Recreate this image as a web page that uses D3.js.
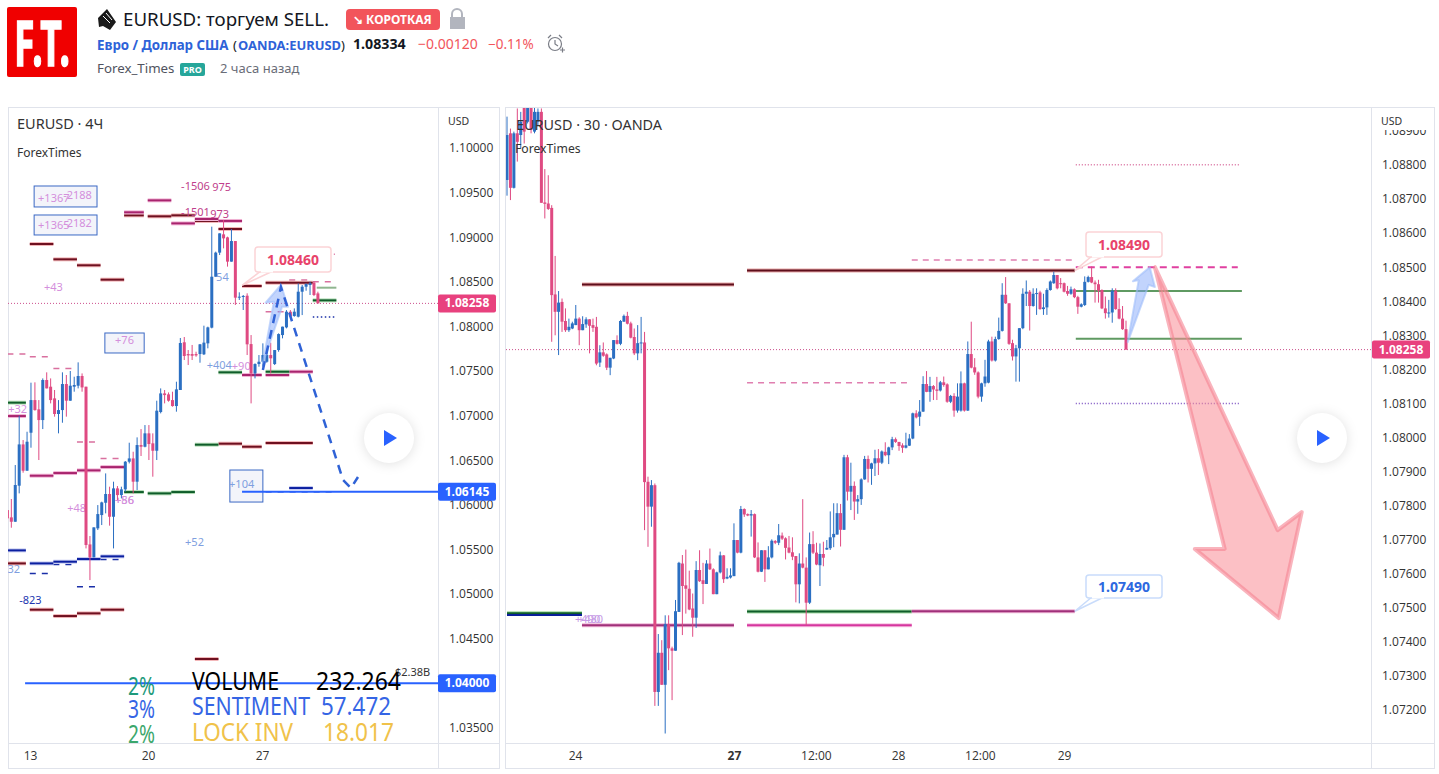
<!DOCTYPE html>
<html>
<head>
<meta charset="utf-8">
<script src="https://d3js.org/d3.v7.min.js"></script>
<style>
    html, body { margin: 0; background: #fff; overflow: hidden; }
    svg { display: block; }
    text { font-family: "Noto Sans", sans-serif; }
    .tick text { fill: #333; font-size: 12px; font-family: "Open Sans", sans-serif; }
    .domain { display: none; }
    .play { filter: drop-shadow(0 1px 6px rgba(0,0,0,.12)); }
</style>
</head>
<body>
<svg id="chart" width="1439" height="774"></svg>
<script>
// prices: open, high, low, close per bar
var leftCandles = [
[1.05941,1.05941,1.05848,1.05848],[1.05859,1.06065,1.05743,1.05810],[1.05810,1.06446,1.05810,1.06222],[1.06214,1.06999,1.06128,1.06677],
[1.06677,1.06726,1.06360,1.06382],[1.06382,1.06819,1.06382,1.06707],[1.06808,1.07369,1.06640,1.07174],[1.07174,1.07373,1.07055,1.07062],
[1.07070,1.07174,1.06502,1.06950],[1.06950,1.07417,1.06849,1.07399],[1.07399,1.07485,1.07305,1.07305],[1.07324,1.07417,1.07137,1.07174],
[1.07193,1.07287,1.06988,1.07018],[1.07018,1.07174,1.06801,1.07062],[1.07062,1.07485,1.06920,1.07354],[1.07354,1.07455,1.06988,1.07167],
[1.07167,1.07500,1.07167,1.07335],[1.07324,1.07436,1.07268,1.07343],[1.07335,1.07597,1.07305,1.07444],[1.07444,1.07473,1.07268,1.07316],
[1.07324,1.07324,1.05511,1.05549],[1.05556,1.05650,1.05156,1.05411],[1.05411,1.05747,1.05411,1.05747],[1.05736,1.05997,1.05717,1.05896],
[1.05885,1.06035,1.05773,1.06027],[1.06023,1.06352,1.05904,1.06121],[1.06121,1.06203,1.05766,1.05866],[1.05866,1.06259,1.05511,1.06184],
[1.06184,1.06210,1.06053,1.06109],[1.06109,1.06203,1.06072,1.06173],[1.06173,1.06491,1.06147,1.06483],[1.06483,1.06696,1.06464,1.06520],
[1.06520,1.06595,1.06128,1.06259],[1.06259,1.06756,1.06165,1.06670],[1.06670,1.06849,1.06547,1.06651],[1.06651,1.06894,1.06644,1.06801],
[1.06801,1.06894,1.06502,1.06681],[1.06689,1.06801,1.06315,1.06606],[1.06606,1.07167,1.06502,1.07055],[1.07040,1.07305,1.07025,1.07249],
[1.07249,1.07287,1.07137,1.07230],[1.07238,1.07260,1.07156,1.07167],[1.07174,1.07268,1.07100,1.07107],[1.07107,1.07380,1.07044,1.07294],
[1.07287,1.07870,1.07287,1.07814],[1.07822,1.07881,1.07623,1.07668],[1.07690,1.07735,1.07567,1.07675],[1.07690,1.07792,1.07623,1.07671],
[1.07690,1.07716,1.07660,1.07675],[1.07690,1.07803,1.07593,1.07799],[1.07687,1.08008,1.07679,1.07818],[1.07810,1.07997,1.07754,1.07989],
[1.07986,1.09118,1.07978,1.08557],[1.08557,1.08838,1.08557,1.08827],[1.08827,1.09043,1.08800,1.09043],[1.09032,1.09193,1.08875,1.08987],
[1.08998,1.09006,1.08670,1.08726],[1.08726,1.09092,1.08726,1.08957],[1.08957,1.08957,1.08240,1.08322],[1.08322,1.08382,1.08296,1.08333],
[1.08333,1.08352,1.08184,1.08341],[1.08344,1.08371,1.07679,1.07799],[1.07802,1.07903,1.07137,1.07473],[1.07473,1.07586,1.07417,1.07578],
[1.07578,1.07679,1.07548,1.07604],[1.07604,1.07810,1.07548,1.07679],[1.07604,1.07754,1.07593,1.07679],[1.07679,1.07817,1.07473,1.07642],
[1.07578,1.07735,1.07567,1.07735],[1.07735,1.07922,1.07716,1.07914],[1.07903,1.07997,1.07866,1.07997],[1.07989,1.08183,1.07978,1.08165],
[1.08165,1.08183,1.08101,1.08109],[1.08116,1.08202,1.08109,1.08165],[1.08109,1.08482,1.08101,1.08389],[1.08389,1.08464,1.08127,1.08445],
[1.08445,1.08482,1.08400,1.08475],[1.08464,1.08501,1.08352,1.08482],[1.08490,1.08501,1.08340,1.08352],[1.08370,1.08389,1.08258,1.08258]
];
var rightCandles = [
[1.08756,1.08942,1.08710,1.08888],[1.08893,1.08907,1.08697,1.08733],[1.08733,1.08898,1.08731,1.08893],[1.08893,1.08966,1.08810,1.08868],
[1.08888,1.08956,1.08849,1.08927],[1.08968,1.08986,1.08863,1.08898],[1.08927,1.09015,1.08922,1.08986],[1.08976,1.09005,1.08893,1.08903],
[1.08898,1.08996,1.08893,1.08956],[1.08927,1.08966,1.08917,1.08956],[1.08956,1.08966,1.08689,1.08689],[1.08690,1.08788,1.08643,1.08686],
[1.08687,1.08770,1.08668,1.08671],[1.08674,1.08682,1.08281,1.08418],[1.08420,1.08533,1.08300,1.08369],[1.08369,1.08430,1.08242,1.08396],
[1.08398,1.08408,1.08310,1.08340],[1.08342,1.08379,1.08310,1.08315],[1.08315,1.08349,1.08310,1.08325],[1.08320,1.08340,1.08318,1.08335],
[1.08330,1.08389,1.08330,1.08349],[1.08349,1.08353,1.08271,1.08315],[1.08315,1.08356,1.08315,1.08333],[1.08332,1.08353,1.08322,1.08347],
[1.08347,1.08347,1.08247,1.08328],[1.08330,1.08349,1.08310,1.08322],[1.08325,1.08354,1.08212,1.08217],[1.08220,1.08271,1.08207,1.08250],
[1.08250,1.08279,1.08237,1.08240],[1.08244,1.08247,1.08198,1.08205],[1.08205,1.08234,1.08183,1.08234],[1.08232,1.08286,1.08230,1.08286],
[1.08286,1.08300,1.08273,1.08275],[1.08275,1.08345,1.08271,1.08342],[1.08340,1.08361,1.08340,1.08357],[1.08357,1.08369,1.08332,1.08334],
[1.08335,1.08340,1.08291,1.08293],[1.08295,1.08320,1.08242,1.08247],[1.08247,1.08330,1.08227,1.08277],[1.08277,1.08354,1.08247,1.08279],
[1.08279,1.08310,1.07728,1.07869],[1.07870,1.07885,1.07679,1.07797],[1.07797,1.07875,1.07738,1.07860],[1.07860,1.07865,1.07212,1.07253],
[1.07253,1.07423,1.07212,1.07368],[1.07368,1.07405,1.07274,1.07274],[1.07274,1.07478,1.07131,1.07452],[1.07452,1.07478,1.07317,1.07381],
[1.07381,1.07386,1.07229,1.07374],[1.07374,1.07523,1.07374,1.07490],[1.07488,1.07635,1.07488,1.07632],[1.07630,1.07655,1.07420,1.07564],
[1.07566,1.07671,1.07483,1.07556],[1.07556,1.07609,1.07493,1.07495],[1.07498,1.07542,1.07415,1.07471],[1.07471,1.07637,1.07441,1.07611],
[1.07611,1.07669,1.07576,1.07578],[1.07581,1.07632,1.07511,1.07570],[1.07570,1.07640,1.07570,1.07630],[1.07630,1.07674,1.07611,1.07613],
[1.07613,1.07616,1.07540,1.07540],[1.07540,1.07606,1.07540,1.07604],[1.07604,1.07665,1.07601,1.07654],[1.07654,1.07655,1.07573,1.07584],
[1.07586,1.07616,1.07584,1.07591],[1.07589,1.07616,1.07586,1.07595],[1.07593,1.07748,1.07593,1.07699],[1.07699,1.07699,1.07660,1.07662],
[1.07662,1.07799,1.07660,1.07790],[1.07790,1.07792,1.07767,1.07774],[1.07775,1.07777,1.07769,1.07771],[1.07771,1.07787,1.07709,1.07775],
[1.07775,1.07777,1.07646,1.07648],[1.07648,1.07692,1.07604,1.07606],[1.07606,1.07669,1.07605,1.07669],[1.07669,1.07669,1.07576,1.07613],
[1.07613,1.07681,1.07613,1.07648],[1.07648,1.07701,1.07645,1.07697],[1.07696,1.07699,1.07687,1.07691],[1.07691,1.07746,1.07684,1.07713],
[1.07712,1.07721,1.07699,1.07703],[1.07704,1.07707,1.07642,1.07676],[1.07677,1.07711,1.07660,1.07662],[1.07663,1.07707,1.07640,1.07650],
[1.07652,1.07652,1.07516,1.07569],[1.07569,1.07660,1.07513,1.07630],[1.07630,1.07819,1.07616,1.07618],[1.07618,1.07648,1.07449,1.07515],
[1.07515,1.07721,1.07511,1.07687],[1.07687,1.07725,1.07658,1.07662],[1.07662,1.07691,1.07625,1.07627],[1.07625,1.07689,1.07564,1.07658],
[1.07658,1.07694,1.07622,1.07647],[1.07671,1.07699,1.07670,1.07676],[1.07675,1.07783,1.07670,1.07707],[1.07707,1.07807,1.07678,1.07717],
[1.07715,1.07807,1.07715,1.07778],[1.07778,1.07805,1.07680,1.07729],[1.07729,1.07949,1.07729,1.07942],[1.07942,1.07949,1.07815,1.07841],
[1.07841,1.07926,1.07787,1.07858],[1.07858,1.07871,1.07758,1.07812],[1.07812,1.07831,1.07776,1.07819],[1.07819,1.07880,1.07802,1.07877],
[1.07877,1.07946,1.07876,1.07937],[1.07937,1.07947,1.07868,1.07908],[1.07908,1.07926,1.07861,1.07924],[1.07924,1.07964,1.07887,1.07939],
[1.07939,1.07966,1.07890,1.07926],[1.07926,1.07962,1.07922,1.07959],[1.07958,1.07986,1.07945,1.07948],[1.07948,1.07973,1.07922,1.07971],
[1.07971,1.08002,1.07963,1.07995],[1.07995,1.08000,1.07984,1.07987],[1.07987,1.07987,1.07961,1.07975],[1.07977,1.07983,1.07955,1.07970],
[1.07970,1.08014,1.07968,1.07977],[1.07976,1.08010,1.07975,1.07997],[1.07997,1.08073,1.07995,1.08071],[1.08071,1.08080,1.08056,1.08059],
[1.08061,1.08110,1.08034,1.08076],[1.08076,1.08180,1.08075,1.08157],[1.08157,1.08195,1.08133,1.08134],[1.08134,1.08178,1.08105,1.08151],
[1.08151,1.08154,1.08110,1.08141],[1.08141,1.08178,1.08110,1.08137],[1.08138,1.08166,1.08135,1.08162],[1.08162,1.08179,1.08149,1.08154],
[1.08156,1.08159,1.08102,1.08105],[1.08105,1.08125,1.08101,1.08122],[1.08122,1.08130,1.08061,1.08079],[1.08079,1.08159,1.08073,1.08120],
[1.08079,1.08194,1.08076,1.08159],[1.08159,1.08161,1.08076,1.08079],[1.08079,1.08282,1.08078,1.08245],[1.08245,1.08340,1.08203,1.08205],
[1.08206,1.08233,1.08184,1.08191],[1.08191,1.08194,1.08115,1.08120],[1.08120,1.08161,1.08105,1.08159],[1.08159,1.08228,1.08149,1.08179],
[1.08161,1.08287,1.08159,1.08282],[1.08282,1.08296,1.08223,1.08226],[1.08226,1.08296,1.08223,1.08289],[1.08289,1.08352,1.08287,1.08313],
[1.08313,1.08453,1.08311,1.08419],[1.08419,1.08471,1.08392,1.08394],[1.08394,1.08394,1.08272,1.08275],[1.08277,1.08287,1.08226,1.08238],
[1.08238,1.08272,1.08164,1.08262],[1.08262,1.08321,1.08164,1.08321],[1.08321,1.08438,1.08318,1.08422],[1.08422,1.08461,1.08386,1.08428],
[1.08428,1.08433,1.08314,1.08386],[1.08386,1.08438,1.08384,1.08422],[1.08422,1.08438,1.08360,1.08424],[1.08426,1.08431,1.08375,1.08377],
[1.08377,1.08422,1.08360,1.08382],[1.08382,1.08438,1.08360,1.08433],[1.08433,1.08461,1.08431,1.08458],[1.08453,1.08487,1.08451,1.08477],
[1.08477,1.08477,1.08435,1.08438],[1.08453,1.08468,1.08438,1.08451],[1.08453,1.08455,1.08426,1.08428],[1.08430,1.08445,1.08416,1.08422],
[1.08422,1.08443,1.08419,1.08435],[1.08435,1.08438,1.08409,1.08412],[1.08412,1.08416,1.08363,1.08384],[1.08384,1.08394,1.08382,1.08391],
[1.08389,1.08473,1.08386,1.08457],[1.08457,1.08475,1.08455,1.08471],[1.08471,1.08502,1.08453,1.08455],[1.08455,1.08461,1.08396,1.08450],
[1.08450,1.08463,1.08396,1.08431],[1.08433,1.08435,1.08377,1.08379],[1.08379,1.08414,1.08349,1.08365],[1.08365,1.08404,1.08352,1.08367],
[1.08367,1.08438,1.08337,1.08431],[1.08431,1.08438,1.08375,1.08377],[1.08377,1.08409,1.08347,1.08349],[1.08349,1.08386,1.08316,1.08318],
[1.08318,1.08343,1.08258,1.08258]
];

var leftPriceTicks = [1.10, 1.095, 1.09, 1.085, 1.08, 1.075, 1.07, 1.065, 1.06, 1.055, 1.05, 1.045, 1.04, 1.035];
var rightPriceTicks = [1.089, 1.088, 1.087, 1.086, 1.085, 1.084, 1.083, 1.082, 1.081, 1.08, 1.079, 1.078, 1.077, 1.076, 1.075, 1.074, 1.073, 1.072];
var leftTimeBars = [5.75, 35.8, 64.8];
var leftTimeLabels = ["13", "20", "27"];
var rightTimeBars = [19.8, 66, 89.8, 113.7, 137.5, 162];
var rightTimeLabels = ["24", "27", "12:00", "28", "12:00", "29"];
var lastPrice = 1.08258;

// levels: first bar, last bar, price
var leftMaroon = [[5.7,11.7,1.08924],[11.7,17.7,1.08752],[17.7,23.7,1.08685],[23.7,29.7,1.08524],[29.7,34.7,1.09245],[35.7,41.7,1.09234],[41.7,47.7,1.09245],[47.7,53.7,1.09182],[53.7,59.7,1.09092],[59.7,64.7,1.08453],[65.7,77.7,1.0849],[53.7,59.7,1.06685],[59.7,64.7,1.06651],[65.7,77.7,1.06693],[0,4.7,1.05343],[5.7,11.7,1.04824],[11.7,17.7,1.04753],[17.7,23.7,1.04783],[23.7,29.7,1.04824],[47.7,53.7,1.04271]];
var leftMagenta = [[29.7,34.7,1.09279],[35.7,41.7,1.09413],[41.7,47.7,1.09155],[47.7,53.7,1.09204],[53.7,59.7,1.09182],[0,4.7,1.06995],[5.7,11.7,1.06326],[11.7,17.7,1.06356],[17.7,23.7,1.06386],[23.7,29.7,1.06423],[59.7,64.7,1.07455],[65.7,71.7,1.07455],[71.7,77.7,1.07492]];
var leftGreen = [[0,4.7,1.07145],[53.7,59.7,1.07485],[65.7,71.7,1.07492],[47.7,53.7,1.06674],[29.7,34.7,1.06143],[35.7,41.7,1.06128],[41.7,47.7,1.06143],[77.7,83.7,1.08292]];
var leftLightGreen = [[78.7,83.7,1.08434]];
var leftNavy = [[0,4.7,1.05489],[5.7,11.7,1.05343],[11.7,17.7,1.05362],[17.7,23.7,1.05392],[23.7,29.7,1.05422],[71.7,77.7,1.06188]];
var leftPinkDashed = [[0,4.7,1.0769],[5.7,11.7,1.0766],[11.7,17.7,1.07529],[17.7,23.7,1.06704],[23.7,29.7,1.0652],[65.7,71.7,1.08165],[71.7,77.7,1.0852],[77.7,83.7,1.08501]];
var leftNavyDashed = [[5.7,11.7,1.05231],[11.7,17.7,1.05332],[17.7,23.7,1.05082],[23.7,29.7,1.05388],[65.7,83.7,1.06145]];
var leftDotted = [[80,83.7,1.08808]];
var leftNavyDotted = [[77.7,83.2,1.08105]];
var leftBlueLevels = [[59.7,110,1.06145],[4.5,110,1.04]];
var leftBoxes = [[6.8,22.8,1.09574,1.09339],[6.8,22.8,1.09249,1.09025],[24.8,34.8,1.07926,1.07702],[56.6,65,1.0639,1.06031]];

var rightMaroon = [[21.8,66,1.08449],[69.8,165.1,1.0849]];
var rightPinkDashed = [[117.7,165.1,1.08521],[69.8,116.3,1.08161]];
var rightMagentaDashed = [[165.4,212.5,1.085]];
var rightDotted = [[165.4,213,1.08801]];
var rightPurpleDotted = [[165.4,213,1.081]];
var rightGreen = [[165.4,213.7,1.0843],[165.4,213.7,1.0829]];
var rightDarkGreen = [[0,21.8,1.07484],[69.8,117.7,1.07489]];
var rightNavy = [[0,21.8,1.07479]];
var rightPurple = [[21.8,66,1.07449],[117.7,165.1,1.0749]];
var rightPink = [[69.8,117.7,1.07449]];

// drawings, as [bar, price]
var leftArrow = [[65,1.0759],[67.8,1.08277],[65.7,1.08266],[69.6,1.08464],[71.4,1.08221],[69.9,1.08221]];
var leftPath = [[65,1.07511],[69.6,1.08442],[85.4,1.06278],[87.4,1.06188],[89.2,1.06312]];
var rightBlueArrow = [[180.5,1.0828],[183.7,1.08462],[182,1.08459],[186.9,1.085],[188.4,1.08442],[186.6,1.08448]];
var rightRedArrow = [[188.4,1.085],[208.7,1.07673],[200,1.07673],[224.4,1.0747],[231.1,1.07781],[224.1,1.07728]];

// labels: text, bar, price
var leftPurpleLabels = [["+1367",7.8,1.09398],["-2188",14.2,1.09428],["+1365",7.8,1.09092],["-2182",14.2,1.09118],["+43",9.3,1.084],["+76",27.4,1.07803],["+48",15.2,1.05923],["+86",27.4,1.06009],["+56",27.4,1.06009],["+90",57.1,1.07511],["+32",0.2,1.07033]];
var leftBlueLabels = [["+104",56.4,1.06188],["+404",50.7,1.07522],["54",53.1,1.08512],["+52",45.2,1.05542],["32",0,1.05235],["65",-3.4,1.04025]];
var leftMagentaLabels = [["-1506",44.2,1.09529],["975",52.1,1.09518],["-1501",44.2,1.09241],["973",51.6,1.09215]];
var leftNavyLabels = [["-823",3,1.04888]];
var leftDarkLabels = [["$2.38B",98.6,1.04081]];
var rightLabels = [["+490",19.8,1.07455],["+480",20.6,1.07455]];

var statPercents = ["2%", "3%", "2%"];
var statNames = ["VOLUME", "SENTIMENT", "LOCK INV"];
var statValues = ["232.264", "57.472", "18.017"];
var percentColors = ["#1d9a7b", "#3565e5", "#3ba76c"];
var statColors = ["#000", "#3565e5", "#f0c24a"];

var blue = "#2b6fc2", pink = "#df4a82", accent = "#2962ff";
var svg = d3.select("#chart");
var defs = svg.append("defs");

function clip(id, x, y, w, h) {
    defs.append("clipPath").attr("id", id).append("rect").attr("x", x).attr("y", y).attr("width", w).attr("height", h);
}
clip("clipLeft", 8, 108, 430, 635);
clip("clipRight", 506, 108, 865, 635);
clip("clipLeftAxis", 439, 130, 60, 613);
clip("clipRightAxis", 1372, 130, 62, 613);

var xLeft = d3.scaleLinear().domain([0, 79]).range([7.4, 317.9]);
var yLeft = d3.scaleLinear().domain([1.035, 1.10]).range([727.8, 148]);
var xRight = d3.scaleLinear().domain([0, 180]).range([507, 1126]);
var yRight = d3.scaleLinear().domain([1.072, 1.088]).range([710, 165]);

function candles(g, rows, x, y) {
    var bar = g.selectAll(".bar").data(rows).join("g").attr("class", "bar")
        .attr("fill", d => d[3] >= d[0] ? blue : pink)
        .attr("stroke", d => d[3] >= d[0] ? blue : pink);
    bar.append("line")
        .attr("x1", (d, i) => x(i)).attr("x2", (d, i) => x(i))
        .attr("y1", d => y(d[1])).attr("y2", d => y(d[2]))
        .attr("stroke-width", 1);
    bar.append("rect")
        .attr("x", (d, i) => x(i) - 1.5).attr("width", 3)
        .attr("y", d => y(Math.max(d[0], d[3])))
        .attr("height", d => Math.max(1, Math.abs(y(d[0]) - y(d[3]))))
        .attr("stroke", "none");
}

function levels(g, rows, x, y, color, width, dash, halo) {
    if (halo) {
        g.append("g").selectAll("line").data(rows).join("line")
            .attr("x1", d => x(d[0])).attr("x2", d => x(d[1]))
            .attr("y1", d => y(d[2])).attr("y2", d => y(d[2]))
            .attr("stroke", halo).attr("stroke-width", width + 2);
    }
    g.append("g").selectAll("line").data(rows).join("line")
        .attr("x1", d => x(d[0])).attr("x2", d => x(d[1]))
        .attr("y1", d => y(d[2])).attr("y2", d => y(d[2]))
        .attr("stroke", color).attr("stroke-width", width)
        .attr("stroke-dasharray", dash || null);
}

function labels(g, rows, x, y, color, size) {
    g.append("g").selectAll("text").data(rows).join("text")
        .attr("x", d => x(d[1])).attr("y", d => y(d[2]))
        .attr("fill", color).attr("font-size", size || 11)
        .text(d => d[0]);
}

function polygon(g, pts, x, y, fill, stroke, width) {
    g.append("path")
        .attr("d", d3.line().x(d => x(d[0])).y(d => y(d[1]))(pts) + "Z")
        .attr("fill", fill).attr("stroke", stroke).attr("stroke-width", width).attr("stroke-linejoin", "round");
}

function callout(g, ax, ay, bx, by, w, h, text, color, border) {
    var px = bx + 2, py = by + h;
    g.append("path")
        .attr("d", `M${ax},${ay}L${px + 4},${py - 1}L${px + 16},${py - 1}Z`)
        .attr("fill", "#fff").attr("stroke", border).attr("stroke-width", 1.5);
    g.append("rect").attr("x", bx).attr("y", by).attr("width", w).attr("height", h).attr("rx", 3)
        .attr("fill", "#fff").attr("stroke", border).attr("stroke-width", 1.5);
    g.append("path")
        .attr("d", `M${px + 4},${py - 0.5}L${px + 16},${py - 0.5}`)
        .attr("stroke", "#fff").attr("stroke-width", 2);
    g.append("text").attr("x", bx + w / 2).attr("y", by + h / 2 + 5).attr("text-anchor", "middle")
        .attr("fill", color).attr("font-size", 14).attr("font-weight", 700).text(text);
}

function axisTag(g, x, y, w, text, color) {
    g.append("rect").attr("x", x).attr("y", y - 9).attr("width", w).attr("height", 18).attr("rx", 2).attr("fill", color);
    g.append("text").attr("x", x + w / 2).attr("y", y + 4).attr("text-anchor", "middle")
        .attr("fill", "#fff").attr("font-size", 12).attr("font-weight", 700)
        .attr("font-family", "Open Sans").text(text);
}

function playButton(cx, cy) {
    var g = svg.append("g").attr("class", "play");
    g.append("circle").attr("cx", cx).attr("cy", cy).attr("r", 25).attr("fill", "#fff");
    g.append("path").attr("d", `M${cx - 5},${cy - 8}L${cx + 8},${cy}L${cx - 5},${cy + 8}Z`).attr("fill", accent);
}

function frame(x, w, sepX) {
    var g = svg.append("g").attr("fill", "none").attr("stroke", "#e0e3eb");
    g.append("rect").attr("x", x + 0.5).attr("y", 107.5).attr("width", w).attr("height", 661);
    g.append("line").attr("x1", x).attr("x2", x + w).attr("y1", 743.5).attr("y2", 743.5);
    g.append("line").attr("x1", sepX + 0.5).attr("x2", sepX + 0.5).attr("y1", 108).attr("y2", 769);
}

function priceAxis(left, y, ticks, clipId) {
    svg.append("g").attr("clip-path", `url(#${clipId})`).append("g")
        .attr("transform", `translate(${left},0)`)
        .call(d3.axisRight(y).tickValues(ticks).tickSize(0).tickPadding(10).tickFormat(d3.format(".5f")));
}

function timeAxis(x, bars, names) {
    return svg.append("g").attr("transform", "translate(0,744)")
        .call(d3.axisBottom(x).tickValues(bars).tickSize(0).tickPadding(7).tickFormat((d, i) => names[i]));
}

// panes
frame(8, 491, 438);
frame(505, 929, 1371);

// left pane
var left = svg.append("g").attr("clip-path", "url(#clipLeft)");
left.append("line").attr("x1", 8).attr("x2", 438).attr("y1", yLeft(lastPrice)).attr("y2", yLeft(lastPrice))
    .attr("stroke", "#cc4f8c").attr("stroke-dasharray", "1 2");
left.append("g").selectAll("rect").data(leftBoxes).join("rect")
    .attr("x", d => xLeft(d[0])).attr("width", d => xLeft(d[1]) - xLeft(d[0]))
    .attr("y", d => yLeft(d[2])).attr("height", d => yLeft(d[3]) - yLeft(d[2]))
    .attr("fill", "#f3f4fa").attr("stroke", "#3a68c4");
levels(left, leftPinkDashed, xLeft, yLeft, "#d9709f", 1.5, "6 6");
levels(left, leftNavyDashed, xLeft, yLeft, "#1a2fa8", 1.5, "6 6");
levels(left, leftDotted, xLeft, yLeft, "#d9709f", 1.5, "1 3");
levels(left, leftNavyDotted, xLeft, yLeft, "#1a2fa8", 1.5, "1.5 2.5");
levels(left, leftMaroon, xLeft, yLeft, "#6e1020", 2, null, "#f3b7b9");
levels(left, leftMagenta, xLeft, yLeft, "#a8246e", 2, null, "#f2b5d6");
levels(left, leftGreen, xLeft, yLeft, "#0f5d2a", 2, null, "#b7deb9");
levels(left, leftLightGreen, xLeft, yLeft, "#8fb58f", 2);
levels(left, leftNavy, xLeft, yLeft, "#0b1fa0", 2, null, "#c6cbf1");
labels(left, leftPurpleLabels, xLeft, yLeft, "#d48fdc");
labels(left, leftBlueLabels, xLeft, yLeft, "#7f9fe0");
labels(left, leftMagentaLabels, xLeft, yLeft, "#c03f8c");
labels(left, leftNavyLabels, xLeft, yLeft, "#2236b0");
candles(left, leftCandles, xLeft, yLeft);
polygon(left, leftArrow, xLeft, yLeft, "rgba(120,160,250,.45)", "rgba(160,190,250,.6)", 2);
left.append("path").attr("d", d3.line().x(d => xLeft(d[0])).y(d => yLeft(d[1]))(leftPath))
    .attr("fill", "none").attr("stroke", "#2f62d6").attr("stroke-width", 2.5).attr("stroke-dasharray", "9 7");
levels(left, leftBlueLevels, xLeft, yLeft, accent, 2);
labels(left, leftDarkLabels, xLeft, yLeft, "#333");
callout(left, xLeft(59.7), yLeft(1.0846), 255, 247, 76, 25, "1.08460", "#e8436a", "#fbd3d6");

svg.append("text").attr("x", 17).attr("y", 129).attr("font-size", 14.5).attr("fill", "#333").text("EURUSD · 4Ч");
svg.append("text").attr("x", 17).attr("y", 157).attr("font-size", 12).attr("fill", "#333").text("ForexTimes");

// stats block at the bottom of the left pane
var percentBase = [695, 718, 742.5];
var nameBase = [690, 715, 740.5];
var nameWidths = [87, 118, 101];
var valueWidths = [85, 70, 71];
var valueEnds = [401, 391, 394];
var stats = svg.append("g").attr("clip-path", "url(#clipLeft)").attr("font-size", 26);
stats.selectAll(".pct").data(statPercents).join("text").attr("class", "pct")
    .attr("x", 128).attr("y", (d, i) => percentBase[i]).attr("fill", (d, i) => percentColors[i])
    .attr("textLength", 27).attr("lengthAdjust", "spacingAndGlyphs").text(d => d);
stats.selectAll(".name").data(statNames).join("text").attr("class", "name")
    .attr("x", 192).attr("y", (d, i) => nameBase[i]).attr("fill", (d, i) => statColors[i])
    .attr("textLength", (d, i) => nameWidths[i]).attr("lengthAdjust", "spacingAndGlyphs").text(d => d);
stats.selectAll(".val").data(statValues).join("text").attr("class", "val")
    .attr("x", (d, i) => valueEnds[i] - valueWidths[i]).attr("y", (d, i) => nameBase[i]).attr("fill", (d, i) => statColors[i])
    .attr("textLength", (d, i) => valueWidths[i]).attr("lengthAdjust", "spacingAndGlyphs").text(d => d);

priceAxis(439, yLeft, leftPriceTicks, "clipLeftAxis");
timeAxis(xLeft, leftTimeBars, leftTimeLabels);
axisTag(svg, 438, yLeft(lastPrice), 58, "1.08258", "#e8417e");
axisTag(svg, 438, yLeft(1.06145), 58, "1.06145", accent);
axisTag(svg, 438, yLeft(1.04), 58, "1.04000", accent);
svg.append("text").attr("x", 448).attr("y", 125).attr("font-size", 10.5).attr("fill", "#333").text("USD");
playButton(389, 438);

// right pane
var right = svg.append("g").attr("clip-path", "url(#clipRight)");
right.append("line").attr("x1", 506).attr("x2", 1371).attr("y1", yRight(lastPrice)).attr("y2", yRight(lastPrice))
    .attr("stroke", "#cc4f8c").attr("stroke-dasharray", "1 2");
levels(right, rightPinkDashed, xRight, yRight, "#e07fb0", 1.5, "6 5");
levels(right, rightMagentaDashed, xRight, yRight, "#e040a0", 2, "7 5");
levels(right, rightDotted, xRight, yRight, "#d9709f", 1.5, "1 2");
levels(right, rightPurpleDotted, xRight, yRight, "#7a4fc0", 1.5, "1 2");
levels(right, rightMaroon, xRight, yRight, "#5e0f1c", 2, null, "#e8a8a8");
levels(right, rightGreen, xRight, yRight, "#5f9a62", 2);
levels(right, rightDarkGreen, xRight, yRight, "#0f5d2a", 2, null, "#a5dca5");
levels(right, rightNavy, xRight, yRight, "#0b1f9a", 2);
levels(right, rightPurple, xRight, yRight, "#a0307a", 2, null, "#eeb4d6");
levels(right, rightPink, xRight, yRight, "#d5369e", 2, null, "#f7c3e2");
labels(right, rightLabels, xRight, yRight, "#c79be6");
candles(right, rightCandles, xRight, yRight);
polygon(right, rightRedArrow, xRight, yRight, "rgba(250,140,150,.55)", "rgba(245,130,145,.6)", 4);
polygon(right, rightBlueArrow, xRight, yRight, "rgba(120,160,250,.45)", "rgba(160,190,250,.6)", 2);
callout(right, xRight(165.1), yRight(1.0849), 1086, 232, 76, 25, "1.08490", "#e8436a", "#fbd3d6");
callout(right, xRight(165.1), yRight(1.0749), 1086, 575, 76, 23, "1.07490", "#2d68e0", "#c9dcfb");

svg.append("text").attr("x", 516).attr("y", 130).attr("font-size", 14.4).attr("fill", "#333").text("EURUSD · 30 · OANDA");
svg.append("text").attr("x", 515).attr("y", 153).attr("font-size", 12.2).attr("fill", "#333").text("ForexTimes");

priceAxis(1372, yRight, rightPriceTicks, "clipRightAxis");
timeAxis(xRight, rightTimeBars, rightTimeLabels)
    .selectAll("text").attr("font-weight", (d, i) => i == 1 ? 700 : null);
axisTag(svg, 1372, yRight(lastPrice), 58, "1.08258", "#e8417e");
svg.append("text").attr("x", 1381).attr("y", 125).attr("font-size", 10.5).attr("fill", "#333").text("USD");
playButton(1322, 438);

// header
svg.append("rect").attr("x", 7).attr("y", 7).attr("width", 70).attr("height", 70).attr("rx", 2).attr("fill", "#f00000");
svg.append("text").attr("x", 14).attr("y", 66).attr("font-family", "Liberation Sans").attr("font-weight", 700)
    .attr("font-size", 62).attr("fill", "#fff").attr("stroke", "#fff").attr("stroke-width", 1.5)
    .attr("textLength", 56).attr("lengthAdjust", "spacingAndGlyphs").text("F.T.");
svg.append("path").attr("d", "M98,18L107,9L116,22L110,30L103,26L99,27Z").attr("fill", "#1a1a1a");
svg.append("path").attr("d", "M103,16L110,23M106,13L112,20").attr("stroke", "#fff").attr("stroke-width", 1);
svg.append("text").attr("x", 123).attr("y", 26).attr("font-size", 18.7).attr("fill", "#131722").text("EURUSD: торгуем SELL.");
svg.append("rect").attr("x", 346).attr("y", 9).attr("width", 94).attr("height", 21).attr("rx", 4).attr("fill", "#f2545b");
svg.append("text").attr("x", 353).attr("y", 24).attr("font-size", 12).attr("font-weight", 700).attr("fill", "#fff").text("↘ КОРОТКАЯ");
svg.append("path").attr("d", "M452,17v-3a5,5,0,0,1,10,0v3").attr("fill", "none").attr("stroke", "#b2b5be").attr("stroke-width", 2);
svg.append("rect").attr("x", 450).attr("y", 17).attr("width", 15).attr("height", 12).attr("fill", "#b2b5be");

svg.append("text").attr("x", 97).attr("y", 50).attr("font-size", 13.3).attr("font-weight", 700).attr("fill", "#2e62d8").text("Евро / Доллар США");
svg.append("text").attr("x", 233).attr("y", 50).attr("font-size", 13).attr("fill", "#131722").text("(");
svg.append("text").attr("x", 238).attr("y", 50).attr("font-size", 13).attr("font-weight", 700).attr("fill", "#2e62d8")
    .attr("textLength", 103).attr("lengthAdjust", "spacingAndGlyphs").text("OANDA:EURUSD");
svg.append("text").attr("x", 341).attr("y", 50).attr("font-size", 13).attr("fill", "#131722").text(")");
svg.append("text").attr("x", 353).attr("y", 49).attr("font-size", 14.2).attr("font-weight", 700).attr("fill", "#131722").text("1.08334");
svg.append("text").attr("x", 418).attr("y", 49).attr("font-size", 14).attr("fill", "#f2545b").text("−0.00120");
svg.append("text").attr("x", 488).attr("y", 49).attr("font-size", 13.5).attr("fill", "#f2545b").text("−0.11%");
var alarm = svg.append("g").attr("fill", "none").attr("stroke", "#7a7d86").attr("stroke-width", 1.2);
alarm.append("circle").attr("cx", 555).attr("cy", 44).attr("r", 6.5);
alarm.append("path").attr("d", "M555,40v4l3,2M548,38l3,-3M559,35l3,3M560,50h5M562.5,47.5v5");

svg.append("text").attr("x", 97).attr("y", 73).attr("font-size", 13.3).attr("fill", "#50535e").text("Forex_Times");
svg.append("rect").attr("x", 180).attr("y", 63).attr("width", 25).attr("height", 13).attr("rx", 2).attr("fill", "#26a69a");
svg.append("text").attr("x", 192.5).attr("y", 73).attr("text-anchor", "middle").attr("font-size", 9).attr("font-weight", 700).attr("fill", "#fff").text("PRO");
svg.append("text").attr("x", 220).attr("y", 73).attr("font-size", 13).attr("fill", "#6a6d78").text("2 часа назад");
</script>
</body>
</html>
